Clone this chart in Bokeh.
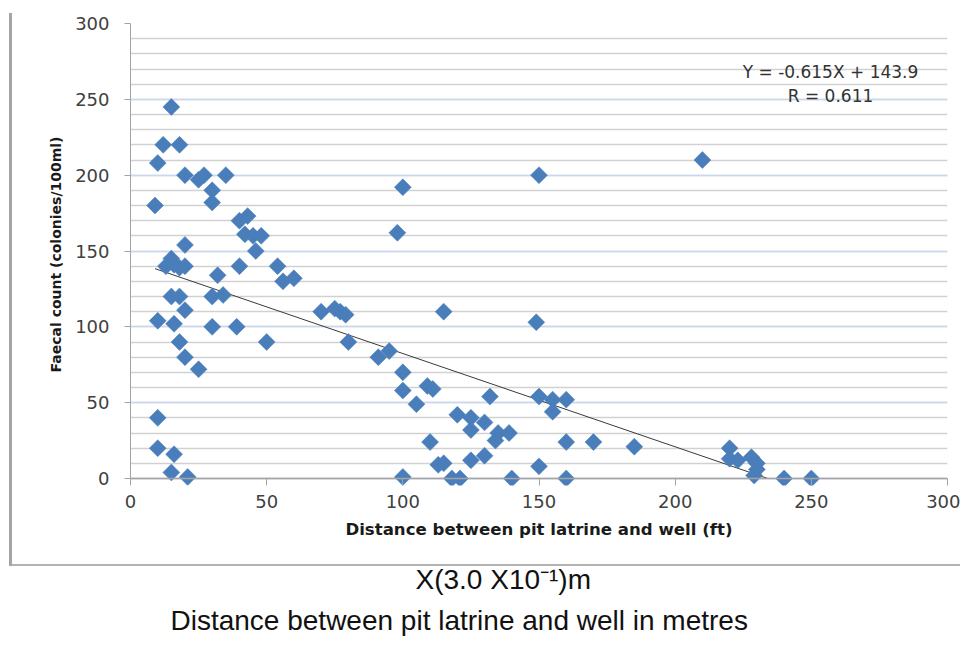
import math
from bokeh.plotting import figure
from bokeh.models import (Range1d, SingleIntervalTicker, Label, Title,
                          ColumnDataSource, Span)
from bokeh.embed import file_html
from bokeh.resources import INLINE

# ---------------- data ----------------
distance_ft = [15, 12, 18, 10, 20, 25, 27, 35, 30, 30, 9, 40, 43, 42, 45, 48, 46, 20,
               13, 15, 16, 18, 20, 40, 32, 54, 56, 60,
               15, 18, 30, 34, 20, 10, 16, 30, 39, 18, 50, 20, 25, 10, 10, 16, 15, 21,
               70, 75, 77, 79, 80, 91, 95, 100, 100, 105, 109, 111, 115, 149, 132,
               120, 125, 130, 125, 135, 134, 139, 110, 113, 115, 125, 130, 100, 118,
               121, 140, 150, 155, 160, 155, 160, 170, 185, 150, 160,
               100, 98, 150, 210,
               220, 220, 223, 228, 230, 230, 229, 240, 250]
faecal_count = [245, 220, 220, 208, 200, 197, 200, 200, 190, 182, 180, 170, 173, 161, 160, 160, 150, 154,
                140, 145, 141, 139, 140, 140, 134, 140, 130, 132,
                120, 120, 120, 121, 111, 104, 102, 100, 100, 90, 90, 80, 72, 40, 20, 16, 4, 1,
                110, 112, 110, 108, 90, 80, 84, 70, 58, 49, 61, 59, 110, 103, 54,
                42, 40, 37, 32, 30, 25, 30, 24, 9, 10, 12, 15, 1, 0,
                0, 0, 54, 52, 52, 44, 24, 24, 21, 8, 0,
                192, 162, 200, 210,
                20, 13, 12, 14, 10, 6, 2, 0, 0]

slope = -0.615
intercept = 143.9
equation_text = "Y = -0.615X + 143.9"
r_text = "R = 0.611"
x_axis_title = "Distance between pit latrine and well (ft)"
y_axis_title = "Faecal count (colonies/100ml)"
unit_note = "X(3.0 X10\u207b\u00b9)m"
caption = "Distance between pit latrine and well in metres"

# ---------------- geometry ----------------
W, H = 960, 639
FRAME_LEFT, FRAME_RIGHT = 130, 947
FRAME_TOP, Y0_PX = 23, 478
PAD_BELOW = 7                       # frame continues a little below y = 0
SX = (FRAME_RIGHT - FRAME_LEFT) / 300.0
SY = (Y0_PX - FRAME_TOP) / 300.0
y_start = -PAD_BELOW / SY


def dx(px):
    return (px - FRAME_LEFT) / SX


def dy(py):
    return (Y0_PX - py) / SY


p = figure(width=W, height=H, title=None,
           x_range=Range1d(0, 300), y_range=Range1d(y_start, 300),
           output_backend="svg", toolbar_location=None,
           min_border_left=FRAME_LEFT, min_border_right=W - FRAME_RIGHT,
           min_border_top=FRAME_TOP, min_border_bottom=H - (Y0_PX + PAD_BELOW))
p.outline_line_color = None
p.background_fill_color = "white"
p.border_fill_alpha = 0

# grey frame lines of the original picture (left and bottom edges),
# painted behind the transparent canvas border
p.styles = {
    "background-color": "white",
    "background-image": "linear-gradient(#a5a5a5, #a5a5a5), linear-gradient(#b3b3b3, #b3b3b3)",
    "background-position": "9px 13px, 9px 564px",
    "background-size": "3px 553px, 951px 2px",
    "background-repeat": "no-repeat",
}

AXIS_GREY = "#a3a3a3"

# grid
yt = SingleIntervalTicker(interval=50, num_minor_ticks=5)
p.xgrid.visible = False
p.ygrid.ticker = yt
p.ygrid.grid_line_color = "#c9d8ee"
p.ygrid.grid_line_width = 1.3
p.ygrid.minor_grid_line_color = "#d1d1d1"
p.ygrid.minor_grid_line_width = 1.3

# axes
tick_font = "DejaVu Sans"
for ax in (p.xaxis[0], p.yaxis[0]):
    ax.axis_line_color = AXIS_GREY
    ax.major_tick_line_color = AXIS_GREY
    ax.minor_tick_line_color = None
    ax.major_tick_in = 0
    ax.major_label_text_font = tick_font
    ax.major_label_text_font_size = "18px"
    ax.major_label_text_color = "#404040"
    ax.axis_label_text_font = tick_font
    ax.axis_label_text_font_style = "bold"
    ax.axis_label_text_color = "#1a1a1a"

# x axis sits at the bottom of the frame, a few pixels under y = 0;
# its ticks reach up to the y = 0 line, drawn as a span
p.xaxis.ticker = SingleIntervalTicker(interval=50, num_minor_ticks=0)
p.xaxis.axis_line_color = None
p.xaxis.major_tick_in = PAD_BELOW
p.xaxis.major_tick_out = 0
p.xaxis.major_label_standoff = 9
p.xaxis.axis_label = x_axis_title
p.xaxis.axis_label_text_font_size = "16.6px"
p.xaxis.axis_label_standoff = 9
p.add_layout(Span(location=0, dimension="width", line_color=AXIS_GREY, line_width=1.3))

p.yaxis.ticker = yt
p.yaxis.bounds = (0, 300)
p.yaxis.major_tick_out = 6
p.yaxis.major_label_standoff = 15
p.yaxis.axis_label = y_axis_title
p.yaxis.axis_label_text_font_size = "14px"
p.yaxis.axis_label_standoff = 8

# trend line from the regression equation
trend_x = [min(distance_ft), -intercept / slope]
trend_y = [slope * x + intercept for x in trend_x]
p.line(trend_x, trend_y, line_color="#3a3a3a", line_width=1)

# points
src = ColumnDataSource(dict(x=distance_ft, y=faecal_count))
p.scatter("x", "y", source=src, marker="square", size=12, angle=math.pi / 4,
          fill_color="#4a7ebb", line_color="#4a7ebb", line_width=0.5)

# equation labels
for txt, py in ((equation_text, 71), (r_text, 95)):
    p.add_layout(Label(x=dx(830), y=dy(py), text=txt, text_align="center",
                       text_baseline="middle", text_font="DejaVu Sans",
                       text_font_size="17px", text_color="#333333"))

# texts below the chart, as titles stacked under the x axis
t_unit = Title(text=unit_note, align="left", offset=415 - FRAME_LEFT,
               text_font="Liberation Sans", text_font_size="28px",
               text_font_style="normal", text_color="#111111", standoff=41)
t_caption = Title(text=caption, align="left", offset=170 - FRAME_LEFT,
                  text_font="Liberation Sans", text_font_size="28px",
                  text_font_style="normal", text_color="#111111", standoff=-26)
p.add_layout(t_unit, "below")
p.add_layout(t_caption, "below")

open("out.html", "w").write(file_html(p, INLINE))
